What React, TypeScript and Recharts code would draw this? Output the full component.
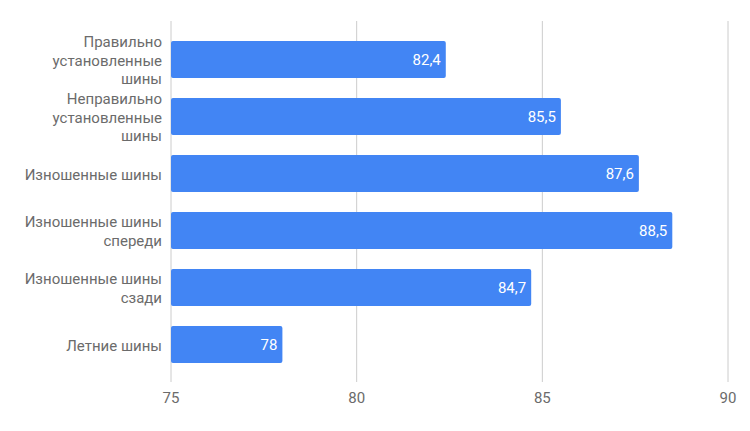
import React from "react";
import { BarChart, Bar, XAxis, YAxis, CartesianGrid, LabelList } from "recharts";

const categories = [
  "Правильно установленные шины",
  "Неправильно установленные шины",
  "Изношенные шины",
  "Изношенные шины спереди",
  "Изношенные шины сзади",
  "Летние шины",
];
const values = [82.4, 85.5, 87.6, 88.5, 84.7, 78];
const xTicks = [75, 80, 85, 90];

const data = categories.map((name, i) => ({ name, value: values[i] }));

const FONT = "Roboto, 'Noto Sans', sans-serif";
const TEXT_COLOR = "#6b6b6b";
const BAR_COLOR = "#4285f4";
const GRID_COLOR = "#cccccc";

function wrap(label: string, maxChars: number): string[] {
  const words = label.split(" ");
  const lines: string[] = [];
  let cur = "";
  for (const w of words) {
    const next = cur ? cur + " " + w : w;
    if (next.length > maxChars && cur) {
      lines.push(cur);
      cur = w;
    } else {
      cur = next;
    }
  }
  if (cur) lines.push(cur);
  return lines;
}

const YTick = (props: any) => {
  const { x, y, payload } = props;
  const lines = wrap(String(payload.value), 16);
  const n = lines.length;
  const lh = 18.8;
  return (
    <text x={x} textAnchor="end" fill={TEXT_COLOR} fontSize={15} fontFamily={FONT}>
      {lines.map((l, i) => (
        <tspan key={i} x={x} y={y + 6 + (i - (n - 1) / 2) * lh}>
          {l}
        </tspan>
      ))}
    </text>
  );
};

const ValueLabel = (props: any) => {
  const { x, y, width, height, value } = props;
  return (
    <text
      x={x + width - 5}
      y={y + height / 2 + 5.5}
      textAnchor="end"
      fill="#ffffff"
      fontSize={15}
      fontFamily={FONT}
    >
      {String(value).replace(".", ",")}
    </text>
  );
};

export default function App() {
  return (
    <BarChart
      width={734}
      height={415}
      data={data}
      layout="vertical"
      margin={{ top: 13, right: 14, bottom: 11, left: 0 }}
    >
      <CartesianGrid horizontal={false} stroke={GRID_COLOR} strokeWidth={1} />
      <XAxis
        type="number"
        domain={[75, 90]}
        ticks={xTicks}
        allowDataOverflow
        axisLine={false}
        tickLine={false}
        tickSize={0}
        tickMargin={10}
        height={30}
        tick={{ fill: TEXT_COLOR, fontSize: 15, fontFamily: FONT }}
      />
      <YAxis
        type="category"
        dataKey="name"
        width={163}
        axisLine={false}
        tickLine={false}
        tickSize={0}
        tickMargin={9}
        interval={0}
        padding={{ top: 10, bottom: 9 }}
        tick={<YTick />}
      />
      <Bar dataKey="value" fill={BAR_COLOR} barSize={37} radius={2} isAnimationActive={false}>
        <LabelList dataKey="value" content={<ValueLabel />} />
      </Bar>
    </BarChart>
  );
}
